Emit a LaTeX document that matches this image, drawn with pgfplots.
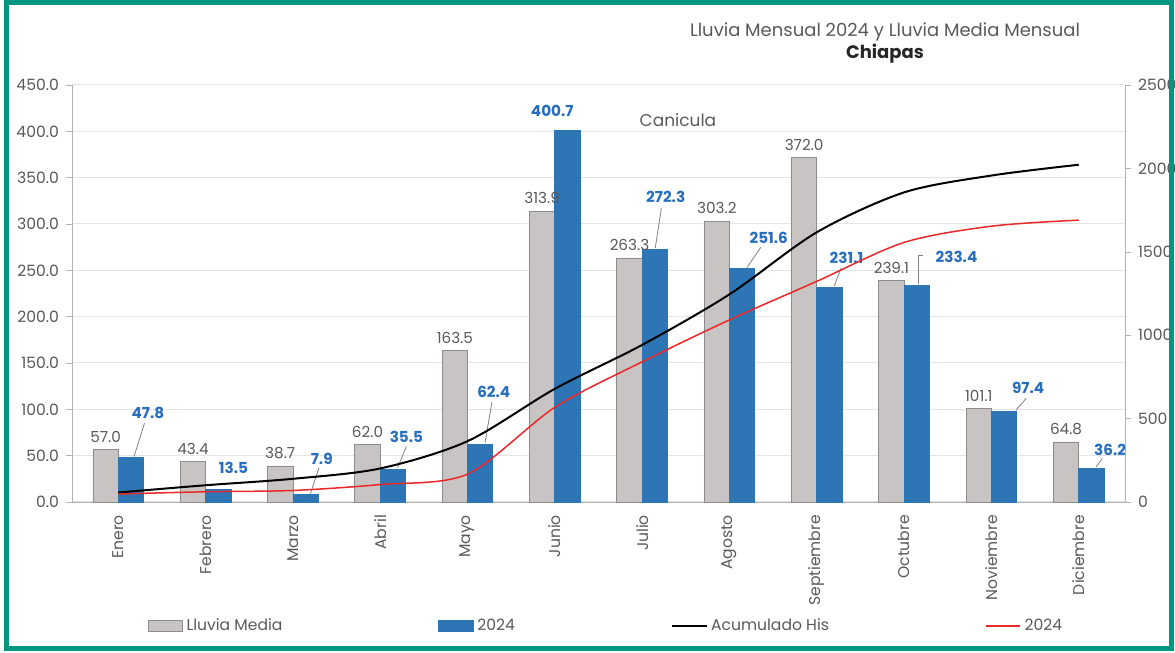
\documentclass[border=0pt]{standalone}
\usepackage{pgfplots}
\pgfplotsset{compat=1.18}
\usepackage{fontspec}
\setmainfont{Poppins}

\definecolor{frame}{RGB}{0,150,130}
\definecolor{greyfill}{RGB}{200,196,196}
\definecolor{greyline}{RGB}{140,140,140}
\definecolor{barblue}{RGB}{46,117,182}
\definecolor{lblblue}{RGB}{40,110,190}
\definecolor{txt}{RGB}{89,89,89}
\definecolor{gridc}{RGB}{228,228,228}
\definecolor{redline}{RGB}{235,40,40}

\begin{document}
\begin{tikzpicture}
\useasboundingbox (-36pt,-75.5pt) rectangle (551.5pt,251pt);

% monthly rain (bars), left axis
\begin{axis}[
    at={(0,0)}, anchor=south west,
    scale only axis, width=526.5pt, height=208.5pt,
    xmin=-0.53, xmax=11.53,
    ymin=0, ymax=450,
    ytick={0,50,...,450},
    xtick={0,...,11},
    xticklabels={Enero,Febrero,Marzo,Abril,Mayo,Junio,Julio,Agosto,Septiembre,Octubre,Noviembre,Diciembre},
    x tick label style={rotate=90, anchor=east, font=\fontsize{7.8}{8}\selectfont, text=txt},
    y tick label style={font=\fontsize{7.8}{8}\selectfont, text=txt},
    yticklabel style={/pgf/number format/.cd, fixed, fixed zerofill, precision=1, assume math mode=true},
    axis y line*=left, axis x line*=bottom,
    axis line style={draw=gray!60},
    major tick style={draw=gray!60},
    major tick length=3pt,
    tick align=outside,
    x tick style={draw=none},
    ymajorgrids, grid style={draw=gridc, line width=0.5pt},
    ybar, bar width=0.29,
    clip=false,
]
\addplot[fill=greyfill, draw=greyline, bar shift=-0.145,
    nodes near coords, nodes near coords style={font=\fontsize{7.6}{8}\selectfont, text=txt, /pgf/number format/.cd, fixed, fixed zerofill, precision=1, assume math mode=true}]
    coordinates {(0,57.0) (1,43.4) (2,38.7) (3,62.0) (4,163.5) (5,313.9) (6,263.3) (7,303.2) (8,372.0) (9,239.1) (10,101.1) (11,64.8)};
\addplot[fill=barblue, draw=barblue, bar shift=0.145]
    coordinates {(0,47.8) (1,13.5) (2,7.9) (3,35.5) (4,62.4) (5,400.7) (6,272.3) (7,251.6) (8,231.1) (9,233.4) (10,97.4) (11,36.2)};

% labels of 2024 bars, with leader lines
\tikzset{bl/.style={font=\bfseries\fontsize{7.6}{8}\selectfont, text=lblblue}}
\node[bl] at (axis cs:0.34,96) {47.8};
\node[bl] at (axis cs:1.32,37) {13.5};
\node[bl] at (axis cs:2.33,47) {7.9};
\node[bl] at (axis cs:3.30,70) {35.5};
\node[bl] at (axis cs:4.30,119) {62.4};
\node[bl] at (axis cs:4.97,422) {400.7};
\node[bl] at (axis cs:6.27,329) {272.3};
\node[bl] at (axis cs:7.45,285) {251.6};
\node[bl] at (axis cs:8.34,263) {231.1};
\node[bl] at (axis cs:9.60,264) {233.4};
\node[bl] at (axis cs:10.42,123) {97.4};
\node[bl] at (axis cs:11.36,56) {36.2};
\begin{scope}[draw=gray, line width=0.4pt]
\draw (axis cs:0.18,49) -- (axis cs:0.30,85);
\draw (axis cs:2.20,9) -- (axis cs:2.30,37);
\draw (axis cs:3.20,37) -- (axis cs:3.30,60);
\draw (axis cs:4.20,64) -- (axis cs:4.28,108);
\draw (axis cs:6.15,274) -- (axis cs:6.22,317);
\draw (axis cs:7.20,253) -- (axis cs:7.36,275);
\draw (axis cs:8.20,233) -- (axis cs:8.28,253);
\draw (axis cs:9.16,235) -- (axis cs:9.16,266) -- (axis cs:9.22,266);
\draw (axis cs:10.28,99) -- (axis cs:10.40,112);
\draw (axis cs:11.20,38) -- (axis cs:11.27,47);
\end{scope}
\node[font=\fontsize{8.5}{9}\selectfont, text=txt] at (axis cs:6.41,412) {Canicula};
\end{axis}

% accumulated rain (lines), right axis
\begin{axis}[
    at={(0,0)}, anchor=south west,
    scale only axis, width=526.5pt, height=208.5pt,
    xmin=-0.53, xmax=11.53,
    ymin=0, ymax=2500,
    ytick={0,500,...,2500},
    axis y line*=right, axis x line=none,
    axis line style={draw=gray!60},
    major tick style={draw=gray!60},
    major tick length=3pt,
    tick align=outside,
    y tick label style={font=\fontsize{7.8}{8}\selectfont, text=txt},
    yticklabel style={/pgf/number format/.cd, fixed, 1000 sep={}, assume math mode=true},
    legend columns=4,
    legend style={at={(0.508,-0.297)}, anchor=center, draw=none, fill=none,
        font=\fontsize{7.8}{8}\selectfont, text=txt,
        /tikz/every even column/.append style={column sep=76pt}},
]
\addlegendimage{area legend, fill=greyfill, draw=greyline}
\addlegendentry{Lluvia Media}
\addlegendimage{area legend, fill=barblue, draw=barblue}
\addlegendentry{2024}
\addplot[black, line width=1pt, smooth]
    coordinates {(0,57.0) (1,100.4) (2,139.1) (3,201.1) (4,364.6) (5,678.5) (6,941.8) (7,1245.0) (8,1617.0) (9,1856.1) (10,1957.2) (11,2022.0)};
\addlegendentry{Acumulado His}
\addplot[redline, line width=0.75pt, smooth]
    coordinates {(0,47.8) (1,61.3) (2,69.2) (3,104.7) (4,167.1) (5,567.8) (6,840.1) (7,1091.7) (8,1322.8) (9,1556.2) (10,1653.6) (11,1689.8)};
\addlegendentry{2024}
\end{axis}

% title
\node[font=\fontsize{9}{10}\selectfont, text=txt] at (406.5pt,235pt) {Lluvia Mensual 2024 y Lluvia Media Mensual};
\node[font=\bfseries\fontsize{9}{10}\selectfont, text=black!85] at (406.5pt,224pt) {Chiapas};

% frame
\draw[frame, line width=2.5pt] (-33pt,-73.5pt) rectangle (549.5pt,249.5pt);
\end{tikzpicture}
\end{document}
